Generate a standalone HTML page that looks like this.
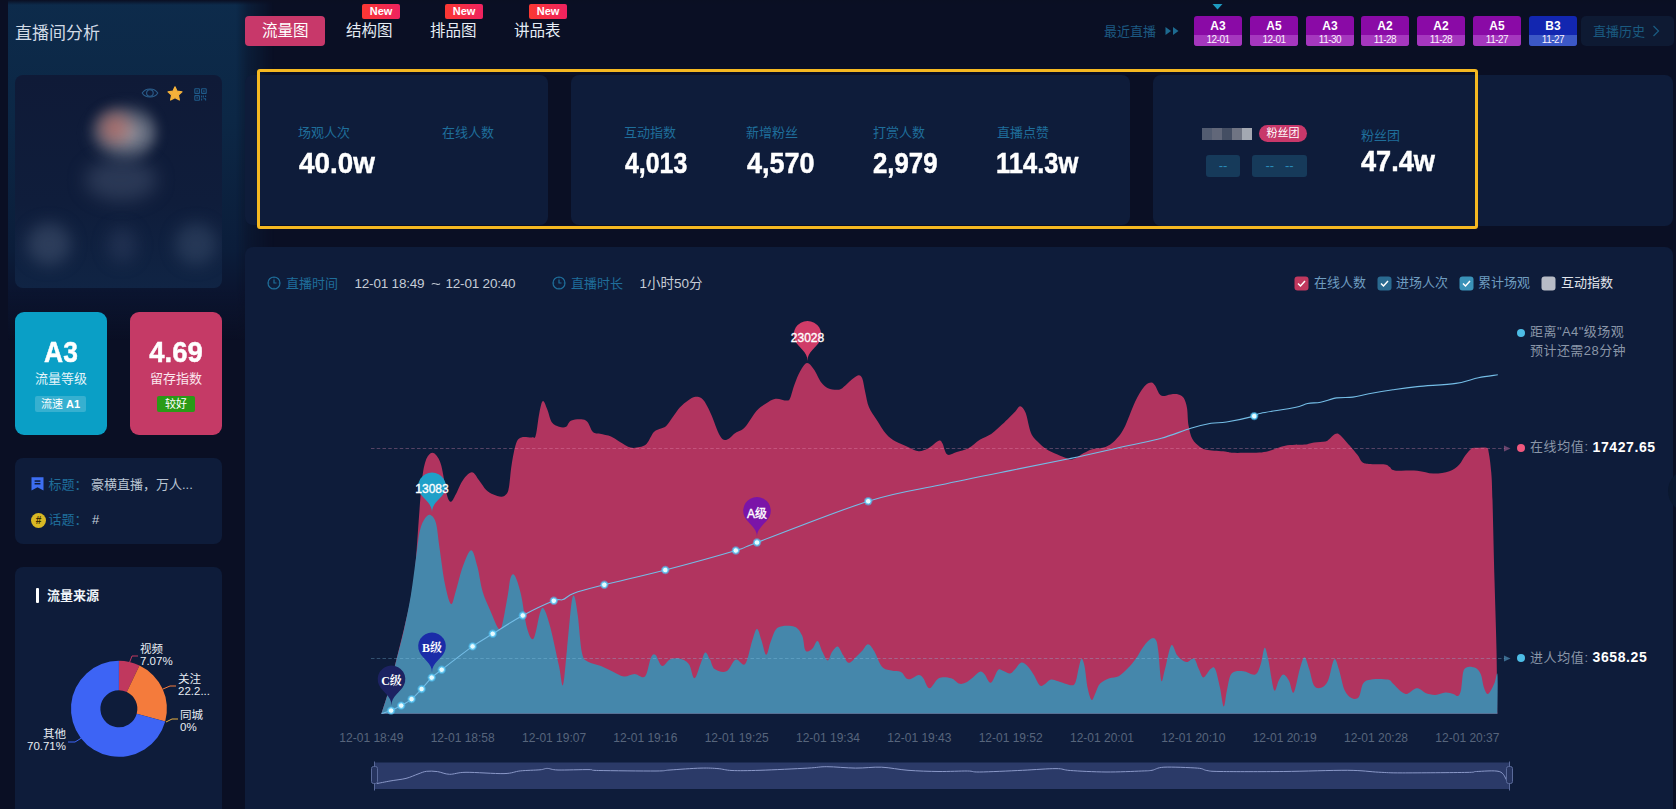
<!DOCTYPE html>
<html lang="zh-CN">
<head>
<meta charset="utf-8">
<title>直播间分析</title>
<style>
*{margin:0;padding:0;box-sizing:border-box}
html,body{width:1676px;height:809px;overflow:hidden;background:#0a0f24}
body{position:relative;font-family:"Liberation Sans","Noto Sans CJK SC",sans-serif;color:#fff}
.a{position:absolute;white-space:nowrap}
.t{position:absolute;white-space:nowrap;line-height:1}
.card{position:absolute;background:#0e1c3a;border-radius:8px}
.num{font-family:"Liberation Sans",sans-serif;font-weight:bold;font-size:30px;color:#fff;transform-origin:0 0;-webkit-text-stroke:0.5px #fff}
.lbl{font-size:13px;color:#1f6e9a}
.tab{font-size:15.5px;color:#e6edf5}
.new{position:absolute;top:4px;width:38px;height:15px;background:linear-gradient(90deg,#fb3832,#ef2260);border-radius:2px;font-size:11px;line-height:15px;text-align:center;color:#fff;font-weight:bold}
.tag{position:absolute;top:16px;width:48px;height:30px;border-radius:3px;overflow:hidden;text-align:center;background:#8a0aa6}
.tag b{display:block;height:19px;font-size:12px;line-height:20px;color:#fff;font-weight:bold}
.tag i{display:block;height:11px;font-style:normal;font-size:10px;line-height:10px;color:#fbf0fd;background:#a537be;letter-spacing:-0.5px}
.tag.blue{background:#1226b0}
.tag.blue i{background:#3c58c6}
.blob{position:absolute;border-radius:50%}
</style>
</head>
<body>
<!-- sidebar glow -->
<div class="a" style="left:8px;top:0;width:270px;height:420px;background:linear-gradient(180deg,#0d2b4b 0px,#0c2745 120px,#0b1d3a 250px,#0b1530 290px,rgba(10,15,36,0) 340px);-webkit-mask-image:linear-gradient(90deg,#000 0,#000 228px,rgba(0,0,0,0.55) 240px,transparent 266px);mask-image:linear-gradient(90deg,#000 0,#000 228px,rgba(0,0,0,0.55) 240px,transparent 266px)"></div>
<div class="a" style="left:0;top:0;width:1676px;height:5px;background:linear-gradient(180deg,#0a0f22,rgba(10,15,34,0))"></div>

<div class="t" style="left:15px;top:25px;font-size:17px;line-height:18px;color:#d2dbe6">直播间分析</div>

<!-- profile card -->
<div class="card" style="left:15px;top:75px;width:207px;height:213px;background:linear-gradient(180deg,#0f1a37 0%,#0f1d3b 60%,#102444 100%);overflow:hidden">
  <div class="blob" style="left:70px;top:26px;width:72px;height:62px;background:radial-gradient(ellipse at 60% 52%,rgba(200,200,205,0.75),rgba(165,170,180,0.45) 40%,rgba(20,30,60,0) 70%);filter:blur(6px)"></div>
  <div class="blob" style="left:78px;top:32px;width:44px;height:42px;background:radial-gradient(circle at 50% 50%,rgba(195,110,100,0.8),rgba(175,115,110,0.4) 50%,rgba(20,30,60,0) 75%);filter:blur(6px)"></div>
  <div class="blob" style="left:70px;top:84px;width:72px;height:42px;background:rgba(80,95,125,0.42);filter:blur(9px)"></div>
  <div class="blob" style="left:12px;top:148px;width:44px;height:42px;background:rgba(80,95,125,0.45);filter:blur(8px)"></div>
  <div class="blob" style="left:92px;top:152px;width:30px;height:36px;background:rgba(60,75,110,0.35);filter:blur(8px)"></div>
  <div class="blob" style="left:160px;top:148px;width:42px;height:42px;background:rgba(70,90,120,0.4);filter:blur(8px)"></div>
  <svg class="a" style="left:126px;top:11px" width="18" height="14" viewBox="0 0 18 14"><path d="M1.2,7 C4.5,1.6 13.5,1.6 16.8,7 C13.5,12.4 4.5,12.4 1.2,7Z" fill="none" stroke="#2b5e8c" stroke-width="1.05"/><circle cx="8.9" cy="7" r="3.3" fill="none" stroke="#2b5e8c" stroke-width="1.05"/></svg>
  <svg class="a" style="left:152px;top:11px" width="16" height="15" viewBox="0 0 16 15"><path d="M8,0.8 L10.1,5.2 L15,5.8 L11.4,9.1 L12.4,14 L8,11.6 L3.6,14 L4.6,9.1 L1,5.8 L5.9,5.2Z" fill="#f4b13a" stroke="#f4b13a" stroke-width="1.2" stroke-linejoin="round"/></svg>
  <svg class="a" style="left:178.5px;top:12.5px" width="13" height="13" viewBox="0 0 13 13" fill="none" stroke="#1f5b8a" stroke-width="1.1"><rect x="0.8" y="0.8" width="4.6" height="4.6" rx="0.5"/><rect x="7.6" y="0.8" width="4.6" height="4.6" rx="0.5"/><rect x="0.8" y="7.6" width="4.6" height="4.6" rx="0.5"/><path d="M7.6,7.4v2M9.4,7.4v2.2M11.6,7.4v1.6M7.6,10.6v1.8M9.4,10.8h2.6M11.6,10.8v1.6"/><rect x="2.4" y="2.4" width="1.4" height="1.4" fill="#1f5b8a" stroke="none"/><rect x="9.2" y="2.4" width="1.4" height="1.4" fill="#1f5b8a" stroke="none"/><rect x="2.4" y="9.2" width="1.4" height="1.4" fill="#1f5b8a" stroke="none"/></svg>
</div>

<!-- level cards -->
<div class="card" style="left:15px;top:312px;width:92px;height:123px;background:#0a9fc6;border-radius:9px"></div>
<div class="t num" style="left:15px;width:92px;text-align:center;top:337px;line-height:30px;transform-origin:50% 0;transform:scaleX(0.88)">A3</div>
<div class="t" style="left:15px;width:92px;text-align:center;top:372px;font-size:13px;line-height:13px;color:#e4f4fa">流量等级</div>
<div class="a" style="left:35px;top:396px;width:51px;height:16px;border-radius:2px;background:rgba(255,255,255,0.18);font-size:11px;line-height:17px;text-align:center;color:#fff">流速 <b>A1</b></div>

<div class="card" style="left:130px;top:312px;width:92px;height:123px;background:#c53a66;border-radius:9px"></div>
<div class="t num" style="left:130px;width:92px;text-align:center;top:337px;line-height:30px;transform-origin:50% 0;transform:scaleX(0.916)">4.69</div>
<div class="t" style="left:130px;width:92px;text-align:center;top:372px;font-size:13px;line-height:13px;color:#fbe6ee">留存指数</div>
<div class="a" style="left:157px;top:396px;width:38px;height:16px;border-radius:2px;background:#2a9a16;font-size:11px;line-height:17px;text-align:center;color:#fff">较好</div>

<!-- title/topic card -->
<div class="card" style="left:15px;top:458px;width:207px;height:86px"></div>
<svg class="a" style="left:31px;top:477px" width="13" height="14" viewBox="0 0 13 14"><path d="M0.5,0.3 H12.5 V13.5 L6.5,10.2 L0.5,13.5Z" fill="#3d6ef2"/><rect x="3.6" y="3.3" width="5.8" height="1.5" fill="#0e1c3a"/><rect x="3.6" y="6" width="5.8" height="1.5" fill="#0e1c3a"/></svg>
<div class="t lbl" style="left:48.5px;top:477.5px;font-size:13px;line-height:13px;color:#1f6e9a">标题：</div>
<div class="t" style="left:91px;top:478px;font-size:13px;line-height:13px;color:#b9c5d2">豪横直播，万人...</div>
<div class="a" style="left:31px;top:513px;width:15px;height:15px;border-radius:50%;background:#d9b824;color:#3a2a00;font-size:10px;line-height:15px;text-align:center;font-weight:bold">#</div>
<div class="t lbl" style="left:48.5px;top:513px;font-size:13px;line-height:13px">话题：</div>
<div class="t" style="left:92px;top:513px;font-size:13px;line-height:13px;color:#c5cfda">#</div>

<!-- traffic source card -->
<div class="card" style="left:15px;top:567px;width:207px;height:260px"></div>
<div class="a" style="left:36px;top:588px;width:3px;height:15px;background:#fff;border-radius:1px"></div>
<div class="t" style="left:47px;top:589px;font-size:13px;line-height:13px;font-weight:bold;color:#f0f4f8">流量来源</div>
<svg class="a" style="left:0;top:0" width="240" height="809">
<path d="M118.9,660.8 A48,48 0 0 1 139.5,665.5 L126.8,692.1 A18.5,18.5 0 0 0 118.9,690.3 Z" fill="#c0385e"/>
<path d="M139.5,665.5 A48,48 0 0 1 165.2,721.6 L136.7,713.7 A18.5,18.5 0 0 0 126.8,692.1 Z" fill="#f47b3c"/>
<path d="M165.2,721.6 A48,48 0 1 1 118.9,660.8 L118.9,690.3 A18.5,18.5 0 1 0 136.7,713.7 Z" fill="#3d64f5"/>
<polyline points="129.5,662.5 132,656 138,656" fill="none" stroke="#c0385e" stroke-width="1"/>
<polyline points="163,689 170,686 176,686" fill="none" stroke="#f47b3c" stroke-width="1"/>
<polyline points="166,722 172,719 178,719" fill="none" stroke="#e8b040" stroke-width="1"/>
<polyline points="81.5,738 75,742 68,742" fill="none" stroke="#3d64f5" stroke-width="1"/>
</svg>
<div class="t" style="left:140px;top:644px;font-size:11.5px;line-height:11px;color:#e8edf3">视频</div>
<div class="t" style="left:140px;top:656px;font-size:11.5px;line-height:11px;color:#e8edf3">7.07%</div>
<div class="t" style="left:178px;top:674px;font-size:11.5px;line-height:11px;color:#e8edf3">关注</div>
<div class="t" style="left:178px;top:686px;font-size:11.5px;line-height:11px;color:#e8edf3">22.2...</div>
<div class="t" style="left:180px;top:710px;font-size:11.5px;line-height:11px;color:#e8edf3">同城</div>
<div class="t" style="left:180px;top:722px;font-size:11.5px;line-height:11px;color:#e8edf3">0%</div>
<div class="t" style="left:16px;width:50px;text-align:right;top:728.5px;font-size:11.5px;line-height:11px;color:#e8edf3">其他</div>
<div class="t" style="left:16px;width:50px;text-align:right;top:740.5px;font-size:11.5px;line-height:11px;color:#e8edf3">70.71%</div>

<!-- top tabs -->
<div class="a" style="left:245px;top:16px;width:80px;height:30px;background:#c8386a;border-radius:4px"></div>
<div class="t tab" style="left:262px;top:23px;line-height:15px;color:#fff">流量图</div>
<div class="t tab" style="left:346px;top:23px;line-height:15px">结构图</div>
<div class="t tab" style="left:430px;top:23px;line-height:15px">排品图</div>
<div class="t tab" style="left:514px;top:23px;line-height:15px">讲品表</div>
<div class="new" style="left:362px">New</div>
<div class="new" style="left:445px">New</div>
<div class="new" style="left:529px">New</div>

<!-- top right -->
<div class="t" style="left:1104px;top:24.5px;font-size:13px;line-height:13px;color:#1d5a82">最近直播</div>
<svg class="a" style="left:1165px;top:26px" width="15" height="10" viewBox="0 0 15 10"><path d="M0.5,1 L6,5 L0.5,9Z M8,1 L13.5,5 L8,9Z" fill="#1d6a90"/></svg>
<svg class="a" style="left:1212px;top:4px" width="11" height="6" viewBox="0 0 11 6"><path d="M0.5,0 H10.5 L5.5,5.5Z" fill="#1e9ac0"/></svg>
<div class="tag" style="left:1194px"><b>A3</b><i>12-01</i></div>
<div class="tag" style="left:1250px"><b>A5</b><i>12-01</i></div>
<div class="tag" style="left:1306px"><b>A3</b><i>11-30</i></div>
<div class="tag" style="left:1361px"><b>A2</b><i>11-28</i></div>
<div class="tag" style="left:1417px"><b>A2</b><i>11-28</i></div>
<div class="tag" style="left:1473px"><b>A5</b><i>11-27</i></div>
<div class="tag blue" style="left:1529px"><b>B3</b><i>11-27</i></div>
<div class="a" style="left:1581px;top:16px;width:93px;height:30px;background:#0e1a33;border-radius:5px"></div>
<div class="t" style="left:1593px;top:25px;font-size:13px;line-height:13px;color:#1a5a80">直播历史</div>
<svg class="a" style="left:1652px;top:25px" width="8" height="12" viewBox="0 0 8 12"><path d="M1.5,1 L6.5,6 L1.5,11" fill="none" stroke="#1a5a80" stroke-width="1.3"/></svg>

<!-- stat cards -->
<div class="card" style="left:245px;top:75px;width:303px;height:150px"></div>
<div class="card" style="left:571px;top:75px;width:559px;height:150px"></div>
<div class="card" style="left:1153px;top:75px;width:520px;height:151px"></div>
<div class="a" style="left:257px;top:69px;width:1221px;height:160px;border:3px solid #f5b821;border-radius:3px"></div>

<div class="t lbl" style="left:298px;top:125.5px">场观人次</div>
<div class="t lbl" style="left:442px;top:125.5px">在线人数</div>
<div class="t lbl" style="left:624px;top:125.5px">互动指数</div>
<div class="t lbl" style="left:746px;top:125.5px">新增粉丝</div>
<div class="t lbl" style="left:873px;top:125.5px">打赏人数</div>
<div class="t lbl" style="left:997px;top:125.5px">直播点赞</div>
<div class="t lbl" style="left:1361px;top:128.5px">粉丝团</div>

<div class="t num" style="left:298.5px;top:147.5px;transform:scaleX(0.927)">40.0w</div>
<div class="t num" style="left:624.5px;top:147.5px;transform:scaleX(0.83)">4,013</div>
<div class="t num" style="left:747px;top:147.5px;transform:scaleX(0.90)">4,570</div>
<div class="t num" style="left:873px;top:147.5px;transform:scaleX(0.86)">2,979</div>
<div class="t num" style="left:995.5px;top:147.5px;transform:scaleX(0.85)">114.3w</div>
<div class="t num" style="left:1361px;top:146px;transform:scaleX(0.905)">47.4w</div>

<div class="a" style="left:1202px;top:128px;width:50px;height:12px;background:linear-gradient(90deg,#5a6478 0,#5a6478 20%,#6a7080 20%,#6a7080 40%,#4a5468 40%,#4a5468 60%,#7a7e8c 60%,#7a7e8c 80%,#b4b8c0 80%);filter:blur(0.6px);opacity:0.9"></div>
<div class="a" style="left:1259px;top:125px;width:48px;height:17px;border-radius:9px;background:#c8386a;font-size:11px;line-height:17px;text-align:center;color:#fff">粉丝团</div>
<div class="a" style="left:1206px;top:155px;width:34px;height:22px;border-radius:3px;background:#163a5a;font-size:13px;line-height:22px;text-align:center;color:#2a8ab8">--</div>
<div class="a" style="left:1252px;top:155px;width:55px;height:22px;border-radius:3px;background:#163a5a;font-size:13px;line-height:22px;text-align:center;color:#2a8ab8">--&nbsp;&nbsp;&nbsp;--</div>

<!-- chart panel -->
<div class="card" style="left:245px;top:247px;width:1428px;height:580px"></div>
<svg class="a" style="left:267px;top:276px" width="14" height="14" viewBox="0 0 14 14" fill="none" stroke="#1f6e9a" stroke-width="1.2"><circle cx="7" cy="7" r="6"/><path d="M7,3.5 V7 H9.5"/><path d="M7,1v1.2M7,11.8V13M1,7h1.2M11.8,7H13"/></svg>
<div class="t lbl" style="left:286px;top:277px">直播时间</div>
<div class="t" style="left:354.5px;top:276.5px;font-size:13.5px;line-height:14px;color:#c5ccd6;letter-spacing:-0.2px">12-01 18:49</div>
<div class="t" style="left:431px;top:276.5px;font-size:13.5px;line-height:14px;color:#c5ccd6;transform:scaleX(1.25);transform-origin:0 0">~</div>
<div class="t" style="left:445.5px;top:276.5px;font-size:13.5px;line-height:14px;color:#c5ccd6;letter-spacing:-0.2px">12-01 20:40</div>
<svg class="a" style="left:552px;top:276px" width="14" height="14" viewBox="0 0 14 14" fill="none" stroke="#1f6e9a" stroke-width="1.2"><circle cx="7" cy="7" r="6"/><path d="M7,3.5 V7 H9.5"/><path d="M7,1v1.2M7,11.8V13M1,7h1.2M11.8,7H13"/></svg>
<div class="t lbl" style="left:571px;top:277px">直播时长</div>
<div class="t" style="left:639.5px;top:276.5px;font-size:13.5px;line-height:14px;color:#c5ccd6">1小时50分</div>

<!-- legend -->
<svg class="a" style="left:1294px;top:275.5px" width="15" height="15" viewBox="0 0 15 15"><rect x="0.5" y="0.5" width="14" height="14" rx="3" fill="#c0385e"/><path d="M4,7.5 L6.5,10 L11,5" fill="none" stroke="#fff" stroke-width="1.5"/></svg>
<div class="t" style="left:1314px;top:275.5px;font-size:13px;color:#6f9cc0">在线人数</div>
<svg class="a" style="left:1377px;top:275.5px" width="15" height="15" viewBox="0 0 15 15"><rect x="0.5" y="0.5" width="14" height="14" rx="3" fill="#2a6a90"/><path d="M4,7.5 L6.5,10 L11,5" fill="none" stroke="#fff" stroke-width="1.5"/></svg>
<div class="t" style="left:1396px;top:275.5px;font-size:13px;color:#6f9cc0">进场人次</div>
<svg class="a" style="left:1459px;top:275.5px" width="15" height="15" viewBox="0 0 15 15"><rect x="0.5" y="0.5" width="14" height="14" rx="3" fill="#3a92b8"/><path d="M4,7.5 L6.5,10 L11,5" fill="none" stroke="#fff" stroke-width="1.5"/></svg>
<div class="t" style="left:1478px;top:275.5px;font-size:13px;color:#6f9cc0">累计场观</div>
<svg class="a" style="left:1541px;top:275.5px" width="15" height="15" viewBox="0 0 15 15"><rect x="0.5" y="0.5" width="14" height="14" rx="3" fill="#b8bcc6"/></svg>
<div class="t" style="left:1561px;top:275.5px;font-size:13px;color:#e2e6ec">互动指数</div>

<!-- chart -->
<svg class="a" style="left:0;top:0;font-family:'Liberation Sans','Noto Sans CJK SC',sans-serif" width="1676" height="809">
<path d="M381.5,713.5C382.8,709.2 386.9,697.1 389.4,688C391.9,678.9 394.1,668.7 396.5,659C398.9,649.3 401.4,639.8 403.7,630C406,620.2 408.6,610 410.5,600C412.4,590 413.8,581.6 415,570C416.2,558.4 416.9,544.8 418,530.5C419.1,516.2 420.4,495.4 421.6,484C422.8,472.6 423.7,467.4 425.2,462.3C426.7,457.2 428.8,454.5 430.6,453.3C432.4,452.1 434.2,452.9 436,455C437.8,457.1 439.6,459.4 441.4,466C443.2,472.6 445.2,488.6 446.8,494.6C448.4,500.6 449.5,501.8 451,501.8C452.5,501.8 453.7,498.2 455.7,494.6C457.7,491 460.2,483.9 462.9,480.2C465.6,476.5 469.2,472.3 471.9,472.3C474.6,472.3 476.6,477.2 479,480.2C481.4,483.1 483.8,487.6 486.2,490C488.6,492.4 490.8,493.4 493.4,494.5C495.9,495.6 499.3,496.8 501.5,496.7C503.7,496.6 505.2,495.6 506.5,494C507.8,492.4 508.1,491.8 509,487C509.9,482.2 510.4,472.2 511.6,465C512.8,457.8 514.4,448.3 516,443.7C517.6,439.1 518.7,438.4 521.4,437.4C524.1,436.3 529.6,437.7 532,437.4C534.4,437.1 534.5,439.6 535.7,435.6C536.9,431.6 538.1,419.1 539.3,413.3C540.5,407.6 541.5,401.7 542.9,401.1C544.2,400.5 545.9,406.2 547.4,409.7C548.9,413.2 549.9,419.4 551.8,422.2C553.7,425 556.6,425.9 559,426.7C561.4,427.4 564,427.8 566.1,426.7C568.2,425.6 568.2,421.4 571.5,420.4C574.8,419.3 582.2,418.5 585.8,420.4C589.4,422.3 590.6,429.8 593,432C595.4,434.2 597,433.1 600,433.8C603,434.6 607.7,435.1 611,436.5C614.3,437.9 616.7,440.1 620,442C623.3,443.9 627.4,446.8 630.6,447.6C633.9,448.4 636.8,447.6 639.5,447C642.2,446.4 644.3,446.2 646.7,443.7C649.1,441.2 651.5,434.5 653.9,432C656.3,429.5 658.9,429.5 661,428.5C663.1,427.5 664.3,427.9 666.4,425.8C668.5,423.7 671.2,419.1 673.5,416C675.8,412.9 677.6,409.9 680,407.3C682.4,404.7 685.5,402.2 688,400.5C690.5,398.8 692.8,396.9 695.3,396.8C697.8,396.7 700.4,396.9 702.9,399.6C705.4,402.3 707.6,406.9 710.5,413C713.4,419.1 717.4,431.6 720.1,436C722.8,440.4 724.2,440.2 726.8,439.7C729.3,439.2 732.4,435.1 735.4,433C738.4,430.9 741.4,431 744.9,427.3C748.4,423.6 752.9,415 756.4,411C759.9,407 762.8,405.6 766,403.5C769.2,401.4 772,399.2 775.5,398.7C779,398.2 784.5,400.8 787,400.6C789.5,400.4 789,400.4 790.3,397.7C791.5,395 792.8,388.8 794.5,384.4C796.2,379.9 798.2,374.6 800.3,371C802.4,367.4 804.8,363.3 807,363C809.2,362.7 811.2,365.8 813.6,369C816,372.2 818.9,379.3 821.3,382.5C823.7,385.7 825.5,387 828,388.2C830.5,389.4 834.2,389.7 836.6,389.7C839,389.7 839.8,389.9 842.3,388.2C844.8,386.5 849.1,381.8 851.8,379.6C854.5,377.4 856.8,375.4 858.5,375.2C860.2,375 861.2,375.8 862.3,378.6C863.4,381.4 864.1,387.2 865.2,392C866.3,396.8 867.1,402.7 869,407.3C870.9,411.9 873.7,415.2 876.6,419.7C879.5,424.1 883,430.4 886.2,434C889.4,437.6 891.9,439.4 895.7,441.6C899.5,443.8 905.2,445.8 909,447.4C912.8,449 915.4,451 918.6,451.2C921.8,451.4 924.9,450.1 928.2,448.3C931.6,446.6 936.3,441.5 938.7,440.7C941.1,439.9 941.1,441.2 942.5,443.5C943.9,445.8 944.9,453.2 947.3,454.6C949.7,456 953.3,453.2 956.8,452.1C960.3,451.1 964.5,450.4 968.3,448.3C972.1,446.2 976,442.1 979.8,439.7C983.6,437.3 987.5,436.5 991.2,434C994.9,431.5 999,427.4 1002,424.6C1005,421.8 1007,419.6 1009.3,417.4C1011.5,415.2 1013.7,413.1 1015.5,411.2C1017.3,409.3 1018.5,405.9 1020.2,406.2C1021.9,406.5 1023.8,408.3 1025.6,412.8C1027.4,417.3 1028.9,428.1 1031,433C1033.1,437.9 1035.4,439.3 1038,442C1040.6,444.7 1043.7,447.3 1046.5,449.2C1049.3,451.1 1051.9,452.1 1055,453.5C1058.1,454.9 1062.2,456.7 1065.2,457.7C1068.2,458.7 1069.9,460.1 1073,459.3C1076.1,458.5 1080.5,454.7 1083.8,453C1087.1,451.3 1089.4,449.9 1093,448.9C1096.6,447.9 1101.9,448.3 1105.5,446.9C1109.1,445.5 1111.7,443.8 1114.8,440.7C1117.9,437.6 1120.6,434.8 1124,428.3C1127.4,421.8 1131.6,408.9 1135,401.9C1138.4,394.9 1141.6,389.6 1144.3,386.4C1147,383.2 1149.5,382.6 1151.3,382.5C1153.1,382.4 1153.8,383.8 1155.1,385.6C1156.4,387.4 1157.7,391.7 1159,393.4C1160.3,395.1 1161,395.8 1162.9,396C1164.8,396.2 1168,394.7 1170.6,394.4C1173.2,394.1 1176.2,393.8 1178.4,394.4C1180.6,395 1182.4,395.7 1183.8,398C1185.2,400.3 1186.2,403.5 1187,408C1187.8,412.5 1187.6,420 1188.5,425.2C1189.4,430.4 1190.5,435.5 1192.4,439.1C1194.3,442.7 1197.4,445.1 1200,446.9C1202.6,448.7 1203.8,449.2 1208,450C1212.2,450.8 1220.9,451 1225,451.5C1229.1,452 1228.8,452.6 1232.7,452.8C1236.6,453 1243.8,452.8 1248.2,452.8C1252.6,452.8 1255.8,452.9 1259.3,452.6C1262.8,452.3 1264.7,452.1 1269,451C1273.3,449.9 1279.2,446.8 1285.1,445.7C1291,444.6 1299.6,445.1 1304.4,444.6C1309.2,444.1 1310.6,443 1314.1,442.5C1317.6,442 1322.9,442 1325.4,441.4C1328,440.8 1327.8,440.2 1329.4,439C1331,437.8 1333.2,434.8 1335,434.1C1336.8,433.4 1337.5,433 1339.9,434.9C1342.3,436.8 1346.6,442 1349.6,445.4C1352.5,448.8 1355.5,452.2 1357.6,455C1359.7,457.8 1360.5,460.8 1362.4,462.3C1364.3,463.8 1365.1,463.5 1368.9,463.9C1372.7,464.2 1381.5,463.9 1385,464.4C1388.5,464.9 1388.2,466.1 1389.8,467.1C1391.4,468.1 1390.1,469.8 1394.7,470.4C1399.3,471 1410.8,470.3 1417.2,470.8C1423.6,471.3 1427.9,473.5 1433.3,473.6C1438.7,473.7 1445.1,472.7 1449.4,471.2C1453.7,469.7 1456.4,467.4 1459.1,464.7C1461.8,462 1463.4,457.7 1465.6,455C1467.8,452.3 1470.1,449.5 1472,448.3C1473.9,447.1 1474.4,447.9 1476.8,447.8C1479.2,447.7 1484.5,446.9 1486.5,447.8C1488.5,448.7 1488.1,449.2 1488.9,453.4C1489.7,457.6 1490.7,465 1491.3,472.8C1491.9,480.6 1492,482.1 1492.5,500C1493,517.9 1493.8,555 1494.5,580C1495.2,605 1496,627.7 1496.5,650C1497,672.3 1497.2,703 1497.4,713.6L1497.4,713.8 L381.5,713.8Z" fill="#b1345f"/>
<path d="M381.5,713.5C382.8,709.3 386.9,697.3 389.4,688.3C391.9,679.3 394.1,669.1 396.5,659.6C398.9,650.1 401.3,641.8 403.7,631C406.1,620.2 408.8,607.6 410.9,595C413,582.4 414.8,566.4 416.3,555.6C417.8,544.9 418.4,536.8 419.9,530.5C421.4,524.2 423.4,520.6 425.2,518C427,515.4 428.8,514.1 430.6,515C432.4,515.9 434.5,517.7 436,523.3C437.5,528.9 438.1,538.2 439.6,548.4C441.1,558.6 443.1,575 445,584.3C446.9,593.6 449.2,602.8 451,604C452.8,605.2 453.7,597.8 455.7,591.5C457.7,585.2 460.3,573.2 462.9,566.3C465.5,559.4 468.8,550.2 471.2,550.2C473.6,550.2 475.4,559.4 477.3,566.3C479.2,573.2 480.5,584.3 482.6,591.5C484.7,598.7 487.1,603.1 489.8,609.4C492.5,615.6 496.7,626.6 498.8,629C500.9,631.4 500.9,629.5 502.4,623.8C503.9,618.1 506.4,602.6 507.8,595C509.2,587.4 509.4,581.2 510.5,578C511.6,574.8 513,572.8 514.7,575.5C516.5,578.2 519,585.8 521,594.5C523,603.2 524.9,620.6 527,628C529.1,635.4 531.4,641.1 533.6,638.6C535.8,636.1 538.3,617.9 540,613C541.7,608.1 542.2,606.5 544,609C545.8,611.5 548,618.5 550.5,628C553,637.5 556.9,656.5 559,666C561.1,675.5 561.7,687.8 563,685C564.3,682.2 565.6,662.7 567,649C568.4,635.3 570.3,611.7 571.5,603C572.7,594.3 573.4,594.5 574.4,596.6C575.4,598.7 576.5,606.1 577.8,615.5C579.1,624.9 580.3,645.3 582,653C583.7,660.7 584.8,659.5 588,661.7C591.2,663.9 596.8,664.3 601,666C605.2,667.7 609.7,670.2 613.5,672C617.3,673.8 620.5,676.2 624,676.5C627.5,676.8 631.1,674 634.6,674C638.1,674 642.3,679.2 645,676.5C647.7,673.8 649.2,661.1 651,657.5C652.8,653.9 653.8,653.6 655.6,655C657.4,656.4 659.6,665.2 662,666C664.4,666.8 667.1,660.7 670,659.5C672.9,658.3 676.3,657.9 679.4,658.6C682.5,659.4 686.3,660.7 688.8,664C691.3,667.3 692.4,678.3 694.4,678.3C696.4,678.3 698.7,668.3 700.5,664C702.3,659.7 703.6,653.2 705.2,652.5C706.8,651.8 708.4,656.8 710,659.5C711.6,662.2 711.9,667 714.6,669C717.3,671 722.9,672.9 726.4,671.3C729.9,669.7 732.7,660.7 735.8,659.5C738.9,658.3 742.5,667.1 745.2,664C747.9,660.9 750.2,646.6 752.2,640.8C754.2,635 755.4,629 757,629C758.6,629 760.1,636.5 761.6,640.8C763.1,645.1 764.7,654.8 766.3,654.8C767.9,654.8 769,645.3 771,640.8C773,636.3 774.1,630 778,627.6C781.9,625.2 790.5,625.4 794.5,626.7C798.5,628 800.4,631.9 802.1,635.6C803.8,639.3 803.9,646.4 804.8,649C805.7,651.6 806.3,651.6 807.6,651.5C808.9,651.4 810.8,650.2 812.5,648.5C814.2,646.8 815.9,640.4 817.6,641C819.3,641.6 820.8,648.8 822.5,652C824.2,655.2 826.1,660.5 827.7,660.5C829.3,660.5 830.3,654.3 832,652C833.7,649.7 836,646 837.8,646.5C839.6,647 841.2,652.3 843,655C844.8,657.7 846.5,662.5 848.7,662.8C850.9,663.1 853.8,659 856,657C858.2,655 860,653.1 862,651C864,648.9 866,644.2 868,644.2C870,644.2 872,647.5 874.3,651.2C876.6,655 879.2,663.5 882,666.7C884.8,669.9 888.1,669.7 891.3,670.6C894.5,671.5 898.5,670.7 901,672C903.5,673.3 904.6,677 906.2,678.2C907.9,679.4 908.8,679.5 910.9,679C913,678.5 916.5,675.2 918.6,675.1C920.7,675 921.5,676 923.3,678.2C925.1,680.4 926.9,688.3 929.5,688.3C932.1,688.3 935.2,679.9 938.8,678.2C942.4,676.5 947.8,677.3 951.2,678.2C954.6,679.1 956.7,682.8 959,683.6C961.3,684.4 962.9,683.8 965.2,682.8C967.5,681.8 970.5,679.2 972.9,677.4C975.3,675.5 978,672.2 979.9,671.7C981.8,671.2 982.7,672.4 984.5,674.3C986.3,676.1 988.6,683.4 990.8,682.8C993,682.1 995.8,672.5 997.7,670.4C999.6,668.3 1000.3,669.9 1002.4,670.4C1004.5,670.9 1008,673.6 1010.1,673.5C1012.2,673.4 1013,671.4 1014.8,669.6C1016.6,667.8 1018.9,663.3 1021,662.7C1023.1,662.1 1025.1,663.9 1027.2,665.8C1029.3,667.7 1031.3,671.1 1033.4,674.3C1035.5,677.5 1037.8,683.5 1039.6,685.2C1041.4,686.9 1042.5,685.3 1044.3,684.4C1046.1,683.5 1048.2,680.2 1050.5,679.7C1052.8,679.2 1054.9,680.4 1058.2,681.3C1061.5,682.2 1067.8,685 1070.6,685.2C1073.4,685.5 1074,685.4 1075.3,682.8C1076.6,680.2 1077.4,673.6 1078.4,669.6C1079.4,665.6 1080.5,659.3 1081.5,658.8C1082.5,658.3 1083.6,661.6 1084.6,666.5C1085.6,671.4 1086.5,682.7 1087.7,688.3C1088.9,693.9 1090.3,699.1 1091.6,699.9C1092.9,700.7 1094.1,695.6 1095.5,692.9C1096.9,690.2 1097.8,686 1100.1,683.6C1102.4,681.2 1106.3,679.4 1109.4,678.2C1112.5,677 1115.6,677.9 1118.7,676.2C1121.8,674.5 1125.2,671 1128,668.1C1130.8,665.2 1133.2,662.4 1135.8,658.8C1138.4,655.2 1141,649.8 1143.6,646.4C1146.2,643 1149.2,639.6 1151.3,638.6C1153.4,637.6 1154.8,638.1 1156,640.2C1157.2,642.3 1157.4,644.2 1158.3,651C1159.2,657.8 1160.2,677.7 1161.3,680.7C1162.4,683.7 1163.3,674.9 1165,669C1166.7,663.1 1169.2,647.9 1171.2,645.5C1173.2,643.1 1175.1,652.5 1176.8,654.8C1178.5,657.1 1179.8,658.3 1181.5,659.5C1183.2,660.7 1184.9,662.1 1187,662C1189.1,661.9 1192,657.4 1194,658.6C1196,659.8 1197.2,665.9 1198.8,669C1200.4,672.1 1201.5,677.4 1203.5,677.4C1205.5,677.4 1208.5,670.4 1210.5,669C1212.5,667.6 1213.6,665.9 1215.2,669C1216.8,672.1 1218.6,681.5 1220,687.7C1221.4,694 1222.5,706.1 1223.7,706.5C1224.9,706.9 1225.7,695.5 1227,690C1228.3,684.5 1229,676.7 1231.7,673.6C1234.4,670.5 1239.5,671.1 1243.4,671.3C1247.3,671.5 1252.3,675.8 1255.2,674.6C1258.1,673.4 1259.2,668.5 1260.8,664C1262.4,659.5 1263.3,648.5 1264.6,647.8C1265.8,647 1266.7,652.5 1268.3,659.5C1269.9,666.5 1272.3,686.5 1274,690C1275.7,693.5 1277.1,683.3 1278.7,680.7C1280.3,678.1 1281.7,674.6 1283.4,674.6C1285.1,674.6 1287.3,677.7 1289,680.7C1290.7,683.7 1291.9,694.5 1293.7,692.5C1295.5,690.5 1298,674.9 1299.8,669C1301.6,663.1 1302.9,657.2 1304.5,657.2C1306.1,657.2 1307.6,664.3 1309.2,669C1310.8,673.7 1312,682.3 1314,685.4C1316,688.5 1318.7,688.5 1321,687.7C1323.3,686.9 1325.8,685.4 1328,680.7C1330.2,676 1332.3,661.5 1334.1,659.5C1335.9,657.5 1337.1,663.9 1338.8,669C1340.5,674.1 1342.4,685.2 1344.5,690C1346.6,694.8 1349.1,696.8 1351.5,698C1353.9,699.2 1356.8,699.5 1358.8,697C1360.8,694.5 1361.1,686 1363.5,683C1365.9,680 1368.9,679.9 1373,679.3C1377.1,678.7 1384.6,678.9 1387.9,679.6C1391.2,680.3 1390.9,681.7 1392.9,683.5C1394.9,685.3 1397.7,688.7 1399.8,690.4C1401.9,692.1 1404,693.6 1405.7,693.9C1407.4,694.2 1408.1,693.3 1409.7,692.4C1411.3,691.5 1413.8,689 1415.6,688.5C1417.4,688 1418.9,688.8 1420.6,689.5C1422.2,690.2 1423,692 1425.5,692.9C1428,693.8 1432.1,695 1435.4,694.9C1438.7,694.8 1442.3,692.6 1445.3,692.4C1448.3,692.2 1451.1,693.3 1453.2,693.9C1455.3,694.5 1456.8,696.6 1458.1,695.9C1459.4,695.2 1460.3,693.4 1461.1,689.5C1461.9,685.6 1462.3,676.2 1463.1,672.6C1463.9,669 1464.5,668.7 1466,667.7C1467.5,666.8 1470.2,666.7 1472,666.9C1473.8,667.1 1475.4,667.4 1476.9,668.7C1478.4,670 1479.7,671.5 1480.9,674.6C1482.1,677.7 1482.8,684.3 1483.9,687.5C1485,690.7 1486.2,693.4 1487.3,693.9C1488.4,694.4 1489.6,692.3 1490.8,690.4C1492,688.5 1493.6,685.1 1494.7,682.5C1495.8,679.9 1497,669.8 1497.5,675C1498,680.2 1497.4,707.2 1497.4,713.6L1497.4,713.8 L381.5,713.8Z" fill="#4587ab"/>
<line x1="371" y1="448.5" x2="1505" y2="448.5" stroke="rgba(235,150,190,0.32)" stroke-width="1" stroke-dasharray="3.5,2.25"/>
<path d="M1504,445.5 L1510.5,448.5 L1504,451.5Z" fill="rgba(200,110,160,0.5)"/>
<line x1="371" y1="658.5" x2="1505" y2="658.5" stroke="rgba(140,205,240,0.3)" stroke-width="1" stroke-dasharray="3.5,2.25"/>
<path d="M1504,655.5 L1510.5,658.5 L1504,661.5Z" fill="rgba(90,160,200,0.6)"/>
<path d="M381.5,713.5C383.1,713 387.8,711.9 391.1,710.6C394.4,709.3 397.8,707.5 401.2,705.6C404.6,703.7 408.2,701.9 411.6,699.1C415,696.3 418.2,692.6 421.6,689C425,685.4 428.4,680.8 431.7,677.6C435,674.4 434.9,674.9 441.7,669.7C448.5,664.5 464.1,652.4 472.6,646.4C481.1,640.4 484.3,638.9 492.7,633.8C501.1,628.6 512.6,621 522.8,615.5C533,610 547.1,603.4 553.8,600.8C560.5,598.1 559.6,600.9 563,599.6C566.4,598.3 567.1,595.7 574,593.2C580.9,590.7 589.1,588.7 604.3,584.8C619.5,580.9 643.4,575.7 665.3,570C687.2,564.3 720.5,555.1 735.8,550.5C751.1,545.9 734.9,550.7 757,542.5C779.1,534.3 837.7,510.8 868.2,501.2C898.7,491.6 916.4,490.1 940,485C963.6,479.9 988.2,475 1010,470.6C1031.8,466.2 1051.4,462.5 1071,458.4C1090.6,454.2 1112.5,449 1127.5,445.7C1142.5,442.4 1150.8,441.2 1161.3,438.3C1171.8,435.4 1182.5,430.8 1190.8,428.3C1199.1,425.8 1205,424.4 1211,423.3C1217,422.2 1219.3,423.2 1226.5,422C1233.7,420.8 1248.5,417.6 1254.2,416.1C1260,414.6 1254.2,414.6 1261,413.2C1267.8,411.8 1287,409.1 1294.8,407.5C1302.6,405.9 1303.4,404.4 1307.7,403.5C1312,402.6 1315.8,403.1 1320.6,402.2C1325.4,401.3 1331.3,398.8 1336.7,397.9C1342.1,397 1347.4,397.8 1352.8,397.1C1358.2,396.4 1362.2,395 1368.9,393.8C1375.6,392.6 1385,391 1393,389.8C1401,388.6 1406.7,387.7 1417.2,386.6C1427.7,385.5 1445.7,384.9 1455.9,383.4C1466.1,381.9 1471.4,379.1 1478.4,377.7C1485.4,376.3 1494.6,375.3 1497.8,374.8" fill="none" stroke="#74bde6" stroke-width="1.1"/>
<circle cx="391.1" cy="710.6" r="4.2" fill="#4fc3f7" opacity="0.55"/><circle cx="391.1" cy="710.6" r="2.8" fill="#e8fbff" stroke="#5cc9f5" stroke-width="1"/>
<circle cx="401.2" cy="705.6" r="4.2" fill="#4fc3f7" opacity="0.55"/><circle cx="401.2" cy="705.6" r="2.8" fill="#e8fbff" stroke="#5cc9f5" stroke-width="1"/>
<circle cx="411.6" cy="699.1" r="4.2" fill="#4fc3f7" opacity="0.55"/><circle cx="411.6" cy="699.1" r="2.8" fill="#e8fbff" stroke="#5cc9f5" stroke-width="1"/>
<circle cx="421.6" cy="689" r="4.2" fill="#4fc3f7" opacity="0.55"/><circle cx="421.6" cy="689" r="2.8" fill="#e8fbff" stroke="#5cc9f5" stroke-width="1"/>
<circle cx="431.7" cy="677.6" r="4.2" fill="#4fc3f7" opacity="0.55"/><circle cx="431.7" cy="677.6" r="2.8" fill="#e8fbff" stroke="#5cc9f5" stroke-width="1"/>
<circle cx="441.7" cy="669.7" r="4.2" fill="#4fc3f7" opacity="0.55"/><circle cx="441.7" cy="669.7" r="2.8" fill="#e8fbff" stroke="#5cc9f5" stroke-width="1"/>
<circle cx="472.6" cy="646.4" r="4.2" fill="#4fc3f7" opacity="0.55"/><circle cx="472.6" cy="646.4" r="2.8" fill="#e8fbff" stroke="#5cc9f5" stroke-width="1"/>
<circle cx="492.7" cy="633.8" r="4.2" fill="#4fc3f7" opacity="0.55"/><circle cx="492.7" cy="633.8" r="2.8" fill="#e8fbff" stroke="#5cc9f5" stroke-width="1"/>
<circle cx="522.8" cy="615.5" r="4.2" fill="#4fc3f7" opacity="0.55"/><circle cx="522.8" cy="615.5" r="2.8" fill="#e8fbff" stroke="#5cc9f5" stroke-width="1"/>
<circle cx="553.8" cy="600.8" r="4.2" fill="#4fc3f7" opacity="0.55"/><circle cx="553.8" cy="600.8" r="2.8" fill="#e8fbff" stroke="#5cc9f5" stroke-width="1"/>
<circle cx="604.3" cy="584.8" r="4.2" fill="#4fc3f7" opacity="0.55"/><circle cx="604.3" cy="584.8" r="2.8" fill="#e8fbff" stroke="#5cc9f5" stroke-width="1"/>
<circle cx="665.3" cy="570" r="4.2" fill="#4fc3f7" opacity="0.55"/><circle cx="665.3" cy="570" r="2.8" fill="#e8fbff" stroke="#5cc9f5" stroke-width="1"/>
<circle cx="735.8" cy="550.5" r="4.2" fill="#4fc3f7" opacity="0.55"/><circle cx="735.8" cy="550.5" r="2.8" fill="#e8fbff" stroke="#5cc9f5" stroke-width="1"/>
<circle cx="757" cy="542.5" r="4.2" fill="#4fc3f7" opacity="0.55"/><circle cx="757" cy="542.5" r="2.8" fill="#e8fbff" stroke="#5cc9f5" stroke-width="1"/>
<circle cx="868.2" cy="501.2" r="4.2" fill="#4fc3f7" opacity="0.55"/><circle cx="868.2" cy="501.2" r="2.8" fill="#e8fbff" stroke="#5cc9f5" stroke-width="1"/>
<circle cx="1254.2" cy="416.1" r="4.2" fill="#4fc3f7" opacity="0.55"/><circle cx="1254.2" cy="416.1" r="2.8" fill="#e8fbff" stroke="#5cc9f5" stroke-width="1"/>
<path d="M379,685.1 A13.8,13.8 0 1 1 404,685.1 C400.4,692.6 391.5,695.8 391.5,705.5 C391.5,695.8 382.6,692.6 379,685.1Z" fill="#1c2262"/>
<text x="391.5" y="684.8" text-anchor="middle" font-size="12" fill="#fff" font-weight="bold" style="font-family:&quot;Liberation Serif&quot;,&quot;Noto Serif CJK SC&quot;,serif">C级</text>
<path d="M419.5,652.1 A13.8,13.8 0 1 1 444.5,652.1 C440.9,659.6 432,662.8 432,672.5 C432,662.8 423.1,659.6 419.5,652.1Z" fill="#1a2ca8"/>
<text x="432" y="651.8" text-anchor="middle" font-size="12" fill="#fff" font-weight="bold" style="font-family:&quot;Liberation Serif&quot;,&quot;Noto Serif CJK SC&quot;,serif">B级</text>
<path d="M419.5,492.1 A13.8,13.8 0 1 1 444.5,492.1 C440.9,499.6 432,502.8 432,512.5 C432,502.8 423.1,499.6 419.5,492.1Z" fill="#1fa0c8"/>
<text x="432" y="493.3" text-anchor="middle" font-size="12" fill="#fff" stroke="#fff" stroke-width="0.35" style="font-family:&quot;Liberation Sans&quot;,&quot;Noto Sans CJK SC&quot;,sans-serif">13083</text>
<path d="M744.5,516.6 A13.8,13.8 0 1 1 769.5,516.6 C765.9,524.1 757,527.3 757,537 C757,527.3 748.1,524.1 744.5,516.6Z" fill="#7b14a8"/>
<text x="757" y="517.8" text-anchor="middle" font-size="12" fill="#fff" stroke="#fff" stroke-width="0.35" style="font-family:&quot;Liberation Sans&quot;,&quot;Noto Sans CJK SC&quot;,sans-serif">A级</text>
<path d="M795,340.6 A13.8,13.8 0 1 1 820,340.6 C816.4,348.1 807.5,351.3 807.5,361 C807.5,351.3 798.6,348.1 795,340.6Z" fill="#d03c68"/>
<text x="807.5" y="341.8" text-anchor="middle" font-size="12" fill="#fff" stroke="#fff" stroke-width="0.35" style="font-family:&quot;Liberation Sans&quot;,&quot;Noto Sans CJK SC&quot;,sans-serif">23028</text>
<text x="371.4" y="742" text-anchor="middle" font-size="12" fill="#57657c">12-01 18:49</text>
<text x="462.7" y="742" text-anchor="middle" font-size="12" fill="#57657c">12-01 18:58</text>
<text x="554.1" y="742" text-anchor="middle" font-size="12" fill="#57657c">12-01 19:07</text>
<text x="645.4" y="742" text-anchor="middle" font-size="12" fill="#57657c">12-01 19:16</text>
<text x="736.7" y="742" text-anchor="middle" font-size="12" fill="#57657c">12-01 19:25</text>
<text x="828" y="742" text-anchor="middle" font-size="12" fill="#57657c">12-01 19:34</text>
<text x="919.4" y="742" text-anchor="middle" font-size="12" fill="#57657c">12-01 19:43</text>
<text x="1010.7" y="742" text-anchor="middle" font-size="12" fill="#57657c">12-01 19:52</text>
<text x="1102" y="742" text-anchor="middle" font-size="12" fill="#57657c">12-01 20:01</text>
<text x="1193.4" y="742" text-anchor="middle" font-size="12" fill="#57657c">12-01 20:10</text>
<text x="1284.7" y="742" text-anchor="middle" font-size="12" fill="#57657c">12-01 20:19</text>
<text x="1376" y="742" text-anchor="middle" font-size="12" fill="#57657c">12-01 20:28</text>
<text x="1467.4" y="742" text-anchor="middle" font-size="12" fill="#57657c">12-01 20:37</text>
<rect x="375" y="762.5" width="1134" height="26.5" fill="#2b3a68"/>
<path d="M377,783.5C379.2,783.1 385.2,781.9 390,781C394.8,780.1 401.3,779.6 406,778.4C410.7,777.2 414.6,775.2 418,774C421.4,772.8 423.3,771.7 426.5,771.3C429.7,770.9 433.5,771.1 437.4,771.6C441.2,772.1 444.8,774.2 449.6,774.3C454.4,774.4 456.9,772.4 466,772.3C475.1,772.2 494.9,773.8 504,773.6C513,773.4 514.3,771.5 520.3,770.9C526.3,770.3 535.5,770.2 540,769.8C544.5,769.4 544.3,768.4 547.3,768.4C550.3,768.4 551,769.8 558,770C565,770.2 582.2,769.5 589,769.6C595.8,769.7 587.5,770.3 598.7,770.5C609.9,770.7 644.1,771.1 656,771C667.9,770.9 662.5,770.5 670,770C677.5,769.5 693,768.3 701,768.1C709,767.9 712.8,768.2 718,768.6C723.2,769 725,770.2 732,770.5C739,770.8 747.4,770.7 760,770.3C772.6,769.9 796.6,768.7 807.7,768.1C818.8,767.5 818.8,766.7 826.8,766.7C834.8,766.7 846.4,768 855.5,768.1C864.6,768.2 873,766.8 881.7,767.2C890.5,767.6 898.5,769.6 908,770.3C917.5,771 929.1,771.4 939,771.5C948.9,771.6 960.8,770.9 967.6,771C974.4,771.1 970.5,772.1 979.6,772C988.8,771.9 1009.8,770.9 1022.5,770.3C1035.2,769.7 1048,768.6 1056,768.6C1064,768.6 1062,769.9 1070.3,770.5C1078.6,771.1 1094.1,771.9 1106,772C1117.9,772.1 1134.1,771.3 1141.8,771C1149.5,770.7 1148.3,770.9 1152,770.3C1155.7,769.7 1156.4,767.6 1163.9,767.2C1171.5,766.8 1190.2,767.6 1197.3,768.1C1204.4,768.6 1202.8,769.9 1206.8,770.5C1210.8,771.1 1208.3,771.3 1221,771.5C1233.7,771.7 1262.1,771.7 1283.2,771.5C1304.3,771.3 1331.7,770.2 1347.6,770.3C1363.5,770.4 1369.5,771.8 1378.7,772.2C1387.9,772.6 1387.8,772.9 1402.5,772.9C1417.2,772.9 1454.7,772.6 1467,772.4C1479.3,772.2 1471.1,771.6 1476.5,771.5C1481.9,771.4 1494.2,770.1 1499.2,771.5C1504.2,772.9 1505.2,778.4 1506.4,779.8" fill="none" stroke="#8a98c8" stroke-width="1"/>
<line x1="374.5" y1="761.5" x2="374.5" y2="790.5" stroke="#5a6a9a" stroke-width="1"/>
<rect x="371.5" y="766.5" width="6" height="17" rx="2" fill="#26345f" stroke="#5a6a9a" stroke-width="1"/>
<line x1="1509.5" y1="761.5" x2="1509.5" y2="790.5" stroke="#5a6a9a" stroke-width="1"/>
<rect x="1506.5" y="766.5" width="6" height="17" rx="2" fill="#26345f" stroke="#5a6a9a" stroke-width="1"/>
</svg>

<!-- right annotations -->
<div class="a" style="left:1668px;top:469px;width:44px;height:44px;border-radius:50%;background:#0b1830"></div>
<div class="a" style="left:1517px;top:328.5px;width:8px;height:8px;border-radius:50%;background:#4dbde6"></div>
<div class="t" style="left:1530px;top:325px;font-size:13px;color:#8a96a8;letter-spacing:0.45px">距离"A4"级场观</div>
<div class="t" style="left:1530px;top:343.5px;font-size:13px;color:#8a96a8;letter-spacing:0.45px">预计还需28分钟</div>
<div class="a" style="left:1517px;top:444px;width:8px;height:8px;border-radius:50%;background:#f0587e"></div>
<div class="t" style="left:1530px;top:440px;font-size:13px;color:#8a96a8;letter-spacing:0.6px">在线均值:</div>
<div class="t" style="left:1592.5px;top:439.5px;font-size:14px;font-weight:bold;color:#fff;letter-spacing:0.6px">17427.65</div>
<div class="a" style="left:1517px;top:654px;width:8px;height:8px;border-radius:50%;background:#4dbde6"></div>
<div class="t" style="left:1530px;top:650.5px;font-size:13px;color:#8a96a8;letter-spacing:0.6px">进人均值:</div>
<div class="t" style="left:1592.5px;top:650px;font-size:14px;font-weight:bold;color:#fff;letter-spacing:0.6px">3658.25</div>
</body>
</html>
